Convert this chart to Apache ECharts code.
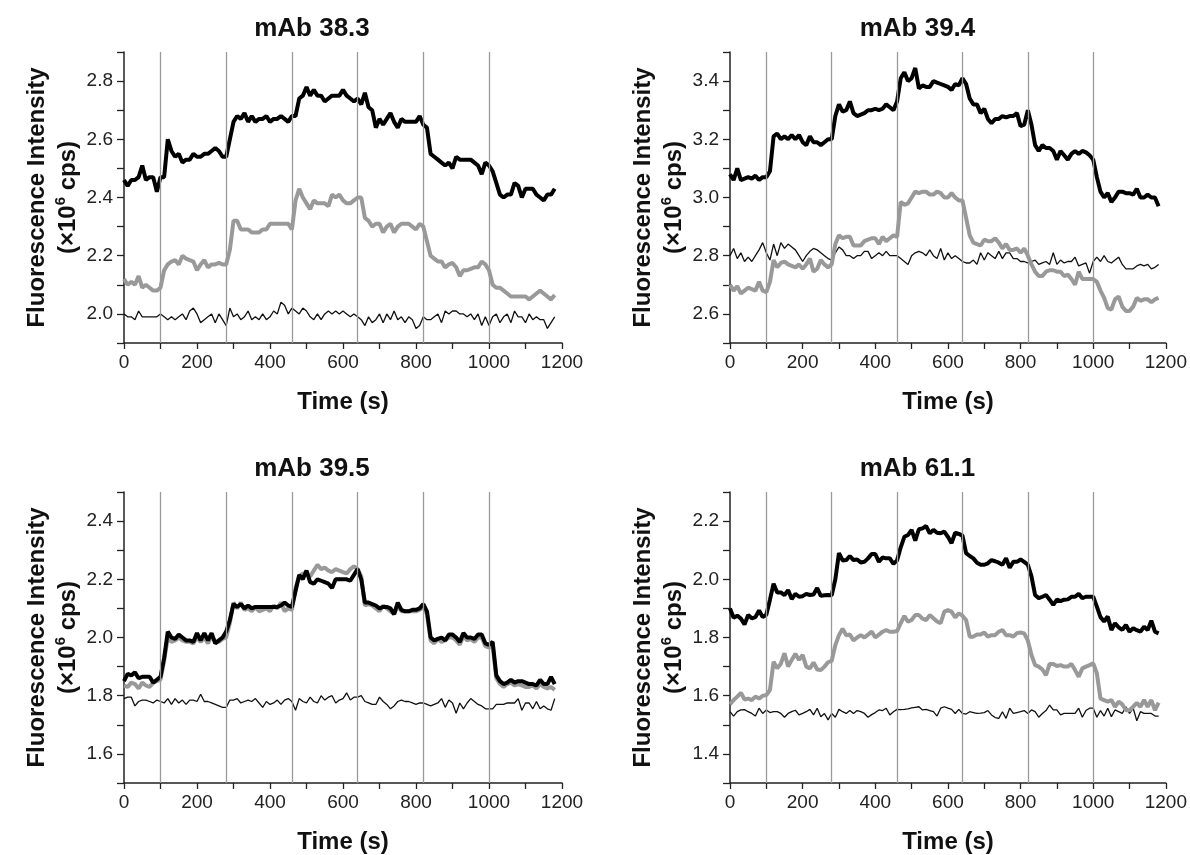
<!DOCTYPE html>
<html>
<head>
<meta charset="utf-8">
<script src="https://cdn.jsdelivr.net/npm/echarts@6/dist/echarts.min.js"></script>
<style>
  html, body { margin: 0; padding: 0; background: #fff; }
  #chart { width: 1190px; height: 855px; }
</style>
</head>
<body>
<div id="chart"></div>
<script>
// sampling: one reading every 10 s, 0..1180 s
const times = Array.from({ length: 119 }, (_, i) => i * 10)
const markTimes = [100, 280, 460, 640, 820, 1000]
const titles = ['mAb 38.3', 'mAb 39.4', 'mAb 39.5', 'mAb 61.1']
const yMin = [1.9, 2.5, 1.5, 1.3]
const yMax = [2.9, 3.5, 2.5, 2.3]

// mAb 38.3
const p1Black = [
  2.46, 2.44, 2.46, 2.46, 2.47, 2.51, 2.46, 2.47, 2.47, 2.42,
  2.47, 2.47, 2.60, 2.56, 2.54, 2.55, 2.52, 2.53, 2.53, 2.55,
  2.54, 2.54, 2.55, 2.55, 2.56, 2.57, 2.56, 2.54, 2.54, 2.60,
  2.66, 2.68, 2.67, 2.69, 2.66, 2.68, 2.66, 2.67, 2.67, 2.68,
  2.66, 2.67, 2.67, 2.68, 2.67, 2.66, 2.68, 2.68, 2.74, 2.75,
  2.78, 2.75, 2.77, 2.75, 2.75, 2.73, 2.74, 2.75, 2.75, 2.75,
  2.77, 2.75, 2.74, 2.73, 2.74, 2.72, 2.76, 2.71, 2.70, 2.64,
  2.67, 2.65, 2.67, 2.69, 2.66, 2.64, 2.67, 2.66, 2.66, 2.66,
  2.66, 2.68, 2.65, 2.64, 2.55, 2.54, 2.53, 2.52, 2.51, 2.52,
  2.50, 2.54, 2.53, 2.53, 2.53, 2.53, 2.52, 2.51, 2.48, 2.52,
  2.51, 2.49, 2.45, 2.41, 2.40, 2.41, 2.41, 2.45, 2.44, 2.40,
  2.43, 2.43, 2.43, 2.41, 2.40, 2.39, 2.41, 2.41, 2.43
]
const p1Gray = [
  2.12, 2.10, 2.11, 2.10, 2.13, 2.09, 2.10, 2.09, 2.08, 2.08,
  2.09, 2.15, 2.17, 2.18, 2.185, 2.17, 2.20, 2.19, 2.185, 2.18,
  2.15, 2.17, 2.185, 2.16, 2.17, 2.17, 2.175, 2.17, 2.17, 2.22,
  2.32, 2.32, 2.29, 2.29, 2.29, 2.28, 2.28, 2.28, 2.29, 2.29,
  2.31, 2.31, 2.31, 2.31, 2.31, 2.31, 2.29, 2.39, 2.43, 2.40,
  2.38, 2.36, 2.39, 2.38, 2.38, 2.38, 2.37, 2.41, 2.40, 2.41,
  2.39, 2.38, 2.38, 2.39, 2.40, 2.40, 2.33, 2.32, 2.30, 2.31,
  2.31, 2.28, 2.30, 2.31, 2.28, 2.30, 2.31, 2.31, 2.31, 2.30,
  2.29, 2.31, 2.30, 2.25, 2.20, 2.19, 2.18, 2.18, 2.16, 2.17,
  2.175, 2.16, 2.13, 2.15, 2.15, 2.155, 2.16, 2.16, 2.18, 2.17,
  2.15, 2.10, 2.09, 2.09, 2.08, 2.07, 2.06, 2.06, 2.06, 2.06,
  2.06, 2.05, 2.06, 2.07, 2.08, 2.07, 2.06, 2.05, 2.065
]
const p1Thin = [
  2.00, 1.99, 1.99, 1.98, 2.01, 1.99, 1.99, 1.99, 1.99, 1.99,
  2.00, 1.99, 1.98, 1.99, 1.98, 1.99, 2.00, 1.98, 2.01, 2.02,
  2.00, 1.97, 1.98, 1.99, 2.00, 1.97, 2.00, 1.98, 1.96, 2.02,
  1.99, 2.00, 1.98, 1.99, 2.01, 1.98, 1.99, 1.98, 2.00, 1.98,
  1.99, 2.01, 2.00, 2.04, 2.03, 2.00, 2.02, 2.01, 2.00, 2.02,
  2.01, 1.99, 1.98, 2.00, 1.98, 2.00, 2.01, 2.00, 2.01, 2.00,
  2.01, 2.00, 1.99, 2.00, 1.99, 1.98, 1.96, 1.99, 1.97, 1.98,
  2.00, 1.97, 2.00, 1.98, 2.01, 1.98, 1.99, 1.97, 1.99, 1.98,
  1.95, 1.96, 1.99, 1.98, 1.98, 1.99, 2.00, 1.97, 2.01, 2.00,
  2.01, 2.01, 2.00, 2.00, 1.99, 2.00, 1.98, 2.00, 1.96, 1.99,
  1.96, 1.99, 2.00, 1.97, 1.99, 2.00, 1.97, 2.01, 1.99, 1.99,
  1.97, 2.00, 1.98, 1.99, 1.98, 1.98, 1.95, 1.97, 1.99
]

// mAb 39.4
const p2Black = [
  3.08, 3.06, 3.10, 3.06, 3.065, 3.07, 3.065, 3.075, 3.06, 3.07,
  3.07, 3.09, 3.21, 3.22, 3.20, 3.21, 3.20, 3.215, 3.20, 3.215,
  3.19, 3.18, 3.21, 3.19, 3.19, 3.18, 3.19, 3.20, 3.20, 3.28,
  3.32, 3.295, 3.30, 3.33, 3.29, 3.28, 3.285, 3.29, 3.30, 3.30,
  3.305, 3.30, 3.305, 3.32, 3.31, 3.30, 3.33, 3.41, 3.43, 3.40,
  3.41, 3.445, 3.375, 3.385, 3.38, 3.38, 3.40, 3.395, 3.39, 3.385,
  3.38, 3.37, 3.39, 3.385, 3.41, 3.39, 3.34, 3.32, 3.32, 3.29,
  3.305, 3.27, 3.255, 3.27, 3.27, 3.28, 3.275, 3.28, 3.28, 3.29,
  3.245, 3.25, 3.30, 3.25, 3.18, 3.16, 3.18, 3.17, 3.17, 3.16,
  3.13, 3.16, 3.145, 3.13, 3.15, 3.16, 3.15, 3.16, 3.155, 3.145,
  3.13, 3.07, 3.02, 3.00, 3.015, 2.985, 3.00, 3.02, 3.02, 3.015,
  3.015, 3.01, 3.03, 3.00, 3.00, 3.01, 3.00, 3.00, 2.97
]
const p2Gray = [
  2.70, 2.68, 2.695, 2.67, 2.68, 2.69, 2.685, 2.68, 2.71, 2.68,
  2.675, 2.71, 2.785, 2.76, 2.775, 2.78, 2.77, 2.765, 2.76, 2.77,
  2.755, 2.77, 2.79, 2.745, 2.755, 2.785, 2.77, 2.76, 2.77, 2.84,
  2.87, 2.86, 2.865, 2.865, 2.835, 2.835, 2.835, 2.85, 2.855, 2.86,
  2.86, 2.84, 2.865, 2.85, 2.86, 2.87, 2.865, 2.985, 2.975, 2.98,
  3.00, 3.02, 3.015, 3.02, 3.02, 3.01, 3.01, 3.02, 3.015, 3.00,
  3.00, 3.015, 3.00, 2.99, 2.99, 2.93, 2.87, 2.845, 2.84, 2.835,
  2.855, 2.85, 2.85, 2.86, 2.845, 2.825, 2.84, 2.82, 2.82, 2.825,
  2.81, 2.825, 2.80, 2.77, 2.745, 2.73, 2.73, 2.745, 2.75, 2.75,
  2.745, 2.745, 2.73, 2.735, 2.72, 2.70, 2.745, 2.72, 2.72, 2.72,
  2.72, 2.71, 2.68, 2.655, 2.62, 2.615, 2.65, 2.66, 2.625, 2.61,
  2.61, 2.625, 2.655, 2.645, 2.65, 2.65, 2.64, 2.65, 2.655
]
const p2Thin = [
  2.80, 2.825, 2.79, 2.81, 2.78, 2.795, 2.78, 2.80, 2.82, 2.845,
  2.81, 2.785, 2.84, 2.80, 2.845, 2.825, 2.84, 2.83, 2.82, 2.80,
  2.78, 2.80, 2.815, 2.825, 2.82, 2.81, 2.80, 2.79, 2.785, 2.81,
  2.83, 2.82, 2.80, 2.80, 2.79, 2.80, 2.80, 2.815, 2.815, 2.79,
  2.80, 2.81, 2.80, 2.815, 2.80, 2.80, 2.80, 2.79, 2.78, 2.77,
  2.80, 2.81, 2.815, 2.81, 2.80, 2.82, 2.80, 2.79, 2.825, 2.785,
  2.81, 2.79, 2.80, 2.79, 2.78, 2.775, 2.775, 2.785, 2.77, 2.81,
  2.785, 2.81, 2.80, 2.79, 2.815, 2.79, 2.81, 2.81, 2.79, 2.79,
  2.78, 2.78, 2.775, 2.78, 2.785, 2.77, 2.775, 2.78, 2.77, 2.81,
  2.77, 2.785, 2.775, 2.78, 2.78, 2.795, 2.765, 2.77, 2.775, 2.74,
  2.78, 2.795, 2.78, 2.80, 2.78, 2.775, 2.785, 2.795, 2.77, 2.755,
  2.755, 2.755, 2.765, 2.77, 2.765, 2.77, 2.755, 2.76, 2.77
]

// mAb 39.5
const p3Black = [
  1.85, 1.875, 1.87, 1.88, 1.86, 1.865, 1.865, 1.865, 1.845, 1.855,
  1.865, 1.93, 2.02, 2.00, 1.995, 2.01, 2.00, 1.99, 1.99, 1.985,
  2.015, 1.99, 2.015, 1.99, 2.015, 1.98, 1.99, 2.00, 2.02, 2.06,
  2.115, 2.105, 2.115, 2.10, 2.11, 2.10, 2.105, 2.105, 2.105, 2.105,
  2.105, 2.105, 2.105, 2.11, 2.12, 2.11, 2.105, 2.16, 2.215, 2.20,
  2.23, 2.19, 2.185, 2.20, 2.195, 2.19, 2.185, 2.17, 2.20, 2.20,
  2.20, 2.20, 2.195, 2.215, 2.235, 2.20, 2.12, 2.12, 2.115, 2.11,
  2.10, 2.105, 2.105, 2.10, 2.08, 2.12, 2.095, 2.09, 2.09, 2.095,
  2.095, 2.10, 2.115, 2.09, 2.00, 1.99, 1.995, 2.00, 1.99, 2.01,
  2.01, 2.00, 1.985, 2.015, 2.00, 2.00, 1.995, 2.01, 2.01, 1.98,
  1.975, 1.985, 1.87, 1.85, 1.84, 1.845, 1.855, 1.845, 1.85, 1.85,
  1.845, 1.84, 1.84, 1.835, 1.855, 1.84, 1.84, 1.865, 1.84
]
const p3Gray = [
  1.835, 1.83, 1.845, 1.84, 1.825, 1.845, 1.835, 1.83, 1.845, 1.85,
  1.855, 1.92, 2.00, 1.985, 1.99, 2.00, 1.99, 1.985, 1.985, 1.98,
  2.00, 1.985, 2.00, 1.98, 2.005, 1.985, 1.985, 1.995, 2.00, 2.05,
  2.12, 2.10, 2.12, 2.095, 2.10, 2.09, 2.105, 2.09, 2.095, 2.10,
  2.09, 2.11, 2.10, 2.12, 2.09, 2.10, 2.095, 2.17, 2.21, 2.22,
  2.22, 2.21, 2.23, 2.25, 2.235, 2.24, 2.23, 2.225, 2.235, 2.23,
  2.225, 2.22, 2.235, 2.245, 2.235, 2.21, 2.11, 2.115, 2.11, 2.10,
  2.09, 2.11, 2.10, 2.09, 2.08, 2.11, 2.09, 2.09, 2.09, 2.09,
  2.09, 2.095, 2.105, 2.08, 1.99, 1.98, 1.995, 1.985, 1.99, 2.00,
  2.00, 1.99, 1.975, 2.005, 1.99, 1.995, 1.985, 2.00, 2.00, 1.97,
  1.965, 1.975, 1.86, 1.84, 1.83, 1.84, 1.845, 1.835, 1.84, 1.835,
  1.83, 1.83, 1.835, 1.825, 1.84, 1.83, 1.825, 1.83, 1.82
]
const p3Thin = [
  1.79, 1.795, 1.795, 1.765, 1.78, 1.785, 1.785, 1.78, 1.775, 1.785,
  1.78, 1.775, 1.79, 1.77, 1.79, 1.775, 1.785, 1.77, 1.785, 1.785,
  1.78, 1.805, 1.78, 1.78, 1.775, 1.77, 1.765, 1.76, 1.76, 1.785,
  1.785, 1.79, 1.775, 1.78, 1.785, 1.78, 1.79, 1.775, 1.76, 1.78,
  1.77, 1.775, 1.785, 1.77, 1.785, 1.79, 1.78, 1.75, 1.79, 1.78,
  1.775, 1.795, 1.78, 1.775, 1.80, 1.785, 1.795, 1.80, 1.775, 1.785,
  1.79, 1.81, 1.785, 1.795, 1.795, 1.80, 1.78, 1.775, 1.77, 1.77,
  1.795, 1.78, 1.77, 1.755, 1.765, 1.78, 1.785, 1.78, 1.78, 1.775,
  1.77, 1.775, 1.775, 1.77, 1.765, 1.77, 1.775, 1.79, 1.76, 1.785,
  1.775, 1.74, 1.775, 1.755, 1.775, 1.79, 1.78, 1.77, 1.765, 1.755,
  1.755, 1.755, 1.77, 1.77, 1.77, 1.775, 1.775, 1.775, 1.79, 1.75,
  1.775, 1.775, 1.755, 1.78, 1.755, 1.765, 1.755, 1.75, 1.79
]

// mAb 61.1
const p4Black = [
  1.90, 1.868, 1.875, 1.865, 1.845, 1.877, 1.866, 1.87, 1.893, 1.87,
  1.878, 1.93, 1.985, 1.955, 1.955, 1.946, 1.963, 1.932, 1.95, 1.94,
  1.942, 1.95, 1.946, 1.948, 1.97, 1.943, 1.945, 1.946, 1.945, 2.00,
  2.09, 2.065, 2.066, 2.08, 2.066, 2.068, 2.058, 2.06, 2.072, 2.087,
  2.087, 2.06, 2.075, 2.072, 2.072, 2.053, 2.065, 2.11, 2.146, 2.152,
  2.17, 2.133, 2.172, 2.175, 2.183, 2.158, 2.17, 2.16, 2.158, 2.164,
  2.146, 2.124, 2.16, 2.156, 2.15, 2.09, 2.08, 2.072, 2.057, 2.05,
  2.05, 2.055, 2.066, 2.062, 2.057, 2.05, 2.072, 2.04, 2.06, 2.06,
  2.068, 2.06, 2.05, 2.01, 1.946, 1.935, 1.94, 1.946, 1.93, 1.912,
  1.93, 1.925, 1.93, 1.931, 1.94, 1.94, 1.95, 1.935, 1.94, 1.94,
  1.94, 1.906, 1.87, 1.855, 1.872, 1.826, 1.849, 1.835, 1.826, 1.843,
  1.82, 1.832, 1.825, 1.82, 1.837, 1.826, 1.858, 1.82, 1.814
]
const p4Gray = [
  1.571, 1.585, 1.597, 1.61, 1.587, 1.59, 1.585, 1.597, 1.59, 1.60,
  1.602, 1.62, 1.717, 1.694, 1.71, 1.746, 1.70, 1.723, 1.744, 1.723,
  1.74, 1.70, 1.694, 1.714, 1.69, 1.688, 1.70, 1.715, 1.72, 1.774,
  1.808, 1.83, 1.808, 1.81, 1.79, 1.80, 1.808, 1.80, 1.81, 1.82,
  1.80, 1.81, 1.82, 1.826, 1.82, 1.82, 1.822, 1.849, 1.874, 1.854,
  1.86, 1.877, 1.877, 1.865, 1.86, 1.877, 1.866, 1.855, 1.849, 1.889,
  1.894, 1.889, 1.869, 1.883, 1.875, 1.86, 1.803, 1.803, 1.81, 1.81,
  1.817, 1.803, 1.808, 1.808, 1.82, 1.826, 1.808, 1.808, 1.803, 1.815,
  1.817, 1.814, 1.79, 1.74, 1.705, 1.70, 1.69, 1.671, 1.709, 1.709,
  1.702, 1.705, 1.70, 1.70, 1.709, 1.688, 1.665, 1.694, 1.70, 1.705,
  1.711, 1.677, 1.59, 1.585, 1.58, 1.585, 1.562, 1.58, 1.57, 1.55,
  1.55, 1.562, 1.575, 1.562, 1.585, 1.562, 1.585, 1.55, 1.576
]
const p4Thin = [
  1.545, 1.53, 1.545, 1.551, 1.552, 1.545, 1.539, 1.53, 1.557, 1.539,
  1.551, 1.542, 1.545, 1.545, 1.539, 1.526, 1.539, 1.545, 1.55, 1.534,
  1.539, 1.545, 1.553, 1.534, 1.557, 1.528, 1.539, 1.517, 1.539, 1.526,
  1.553, 1.545, 1.539, 1.549, 1.539, 1.549, 1.545, 1.539, 1.526, 1.535,
  1.542, 1.551, 1.549, 1.557, 1.534, 1.545, 1.553, 1.552, 1.553, 1.555,
  1.558, 1.56, 1.562, 1.551, 1.553, 1.549, 1.545, 1.53, 1.557, 1.562,
  1.557, 1.553, 1.539, 1.553, 1.539, 1.537, 1.545, 1.542, 1.539, 1.54,
  1.542, 1.549, 1.534, 1.525, 1.522, 1.545, 1.522, 1.557, 1.539, 1.542,
  1.545, 1.549, 1.539, 1.551, 1.545, 1.526, 1.539, 1.549, 1.568, 1.551,
  1.551, 1.534, 1.539, 1.539, 1.539, 1.539, 1.557, 1.526, 1.549, 1.557,
  1.557, 1.526, 1.549, 1.53, 1.557, 1.528, 1.551, 1.545, 1.539, 1.562,
  1.539, 1.557, 1.514, 1.545, 1.539, 1.539, 1.539, 1.53, 1.53
]

const panels = [
  [p1Black, p1Gray, p1Thin],
  [p2Black, p2Gray, p2Thin],
  [p3Black, p3Gray, p3Thin],
  [p4Black, p4Gray, p4Thin]
]

const FONT = '"Liberation Sans", Arial, Helvetica, sans-serif'
const boxes = [
  { left: 124, top: 52, width: 438, height: 291 },
  { left: 730, top: 52, width: 437, height: 291 },
  { left: 124, top: 492, width: 438, height: 291 },
  { left: 730, top: 492, width: 437, height: 291 }
]

const pair = arr => arr.map((v, i) => [times[i], v])

const myChart = echarts.init(document.getElementById('chart'), null, { renderer: 'canvas' })

const grid = boxes.map(b => ({ left: b.left, top: b.top, width: b.width, height: b.height, containLabel: false }))

const title = titles.map((t, i) => ({
  text: t,
  left: boxes[i].left + boxes[i].width / 2 - 36,
  top: boxes[i].top - 41,
  textAlign: 'center',
  textStyle: { fontFamily: FONT, fontWeight: 'bold', fontSize: 26, color: '#111' }
}))

const xAxis = boxes.map((b, i) => ({
  type: 'value',
  gridIndex: i,
  min: 0,
  max: 1200,
  interval: 100,
  name: 'Time (s)',
  nameLocation: 'middle',
  nameGap: 47,
  nameTextStyle: { fontFamily: FONT, fontWeight: 'bold', fontSize: 24, color: '#111' },
  axisLine: { show: true, onZero: false, lineStyle: { color: '#222', width: 1.5 } },
  axisTick: { show: true, length: 6, lineStyle: { color: '#222', width: 1.3 } },
  axisLabel: {
    margin: 10,
    fontFamily: FONT,
    fontSize: 19,
    color: '#222',
    formatter: v => (Math.round(v) % 200 === 0 ? String(Math.round(v)) : '')
  },
  splitLine: { show: false }
}))

const yAxis = boxes.map((b, i) => ({
  type: 'value',
  gridIndex: i,
  min: yMin[i],
  max: yMax[i],
  interval: 0.1,
  name: '{n|Fluorescence Intensity}\n{n|(×10}{s|6}{n| cps)}',
  nameLocation: 'middle',
  nameRotate: 90,
  nameGap: 40,
  nameTextStyle: {
    fontFamily: FONT,
    rich: {
      n: { fontFamily: FONT, fontWeight: 'bold', fontSize: 24, color: '#111', lineHeight: 31 },
      s: { fontFamily: FONT, fontWeight: 'bold', fontSize: 15, color: '#111', lineHeight: 16, verticalAlign: 'top' }
    }
  },
  axisLine: { show: true, onZero: false, lineStyle: { color: '#222', width: 1.5 } },
  axisTick: { show: true, length: 7, lineStyle: { color: '#222', width: 1.3 } },
  axisLabel: {
    margin: 11,
    fontFamily: FONT,
    fontSize: 19,
    color: '#222',
    formatter: v => (Math.round(v * 10) % 2 === 0 ? v.toFixed(1) : '')
  },
  splitLine: { show: false }
}))

const series = []
panels.forEach((p, i) => {
  series.push({
    type: 'line',
    xAxisIndex: i,
    yAxisIndex: i,
    data: pair(p[2]),
    showSymbol: false,
    z: 2,
    lineStyle: { color: '#111', width: 1.3 },
    markLine: {
      silent: true,
      symbol: ['none', 'none'],
      label: { show: false },
      lineStyle: { color: '#9a9a9a', width: 1.3, type: 'solid' },
      data: markTimes.map(t => ({ xAxis: t }))
    }
  })
  series.push({
    type: 'line',
    xAxisIndex: i,
    yAxisIndex: i,
    data: pair(p[1]),
    showSymbol: false,
    z: 3,
    lineStyle: { color: '#999999', width: 4 }
  })
  series.push({
    type: 'line',
    xAxisIndex: i,
    yAxisIndex: i,
    data: pair(p[0]),
    showSymbol: false,
    z: 4,
    lineStyle: { color: '#000', width: 4 }
  })
})

myChart.setOption({
  animation: false,
  backgroundColor: '#fff',
  title: title,
  grid: grid,
  xAxis: xAxis,
  yAxis: yAxis,
  series: series
})
</script>
</body>
</html>
